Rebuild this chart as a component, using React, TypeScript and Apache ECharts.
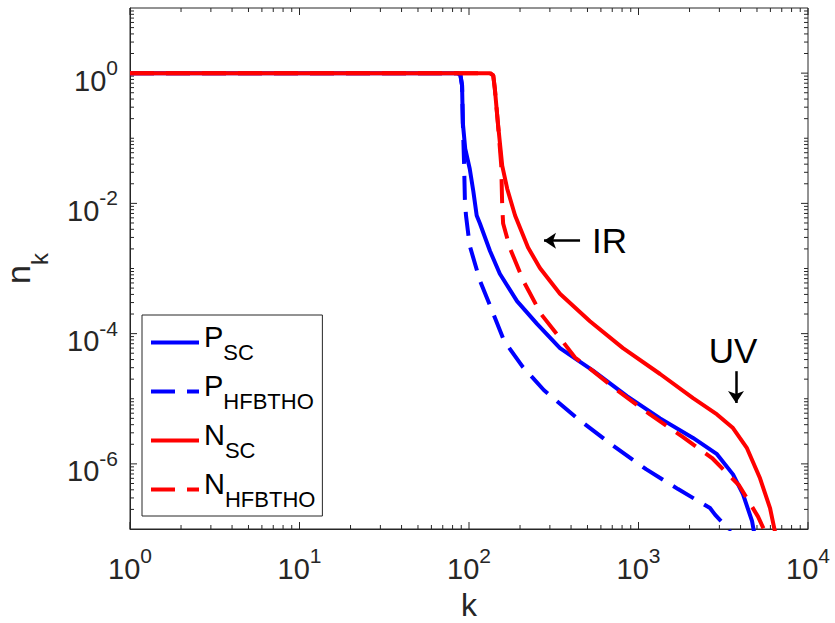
import React, { useEffect, useRef } from "react";
import * as echarts from "echarts";

// ---- data (k, n_k) ----
const P_SC: [number, number][] = [
  [1, 1], [86, 1], [89, 0.93], [91, 0.65], [92, 0.17], [95, 0.069], [101, 0.034],
  [106, 0.0155], [111, 0.0065], [116, 0.0049], [133, 0.00186], [152, 0.00083],
  [192, 3.16e-4], [252, 1.41e-4], [344, 6.0e-5], [539, 2.7e-5], [855, 1.1e-5],
  [1341, 5.0e-6], [2098, 2.5e-6], [2905, 1.41e-6], [3610, 6.9e-7], [4137, 3.4e-7],
  [4677, 1.32e-7], [4800, 9.1e-8],
];
const P_HFBTHO: [number, number][] = [
  [1, 1], [86, 1], [89, 0.93], [91, 0.65], [92, 0.17], [93.5, 0.042], [94.6, 0.011],
  [96, 0.0065], [101, 0.00224], [116, 6.5e-4], [137, 2.24e-4], [161, 7.8e-5],
  [206, 3.16e-5], [277, 1.35e-5], [440, 4.9e-6], [698, 1.95e-6], [1107, 8.3e-7],
  [1711, 4.1e-7], [2642, 2.1e-7], [2827, 1.66e-7], [3373, 1.02e-7], [3467, 9.1e-8],
];
const N_SC: [number, number][] = [
  [1, 1], [133, 1], [139, 0.92], [142, 0.58], [148, 0.174], [157, 0.038], [168, 0.0168],
  [187, 0.0065], [223, 0.0021], [262, 0.00102], [344, 4.1e-4], [517, 1.55e-4],
  [810, 6.0e-5], [1341, 2.4e-5], [2098, 1.02e-5], [2905, 5.75e-6], [3610, 3.55e-6],
  [4365, 1.74e-6], [5212, 6.0e-7], [5970, 2.1e-7], [6385, 9.1e-8],
];
const N_HFBTHO: [number, number][] = [
  [1, 1], [133, 1], [139, 0.92], [142, 0.58], [148, 0.174], [155, 0.038], [157, 0.0091],
  [159, 0.0049], [175, 0.002], [211, 6.2e-4], [266, 2.0e-4], [354, 7.8e-5], [422, 4.3e-5],
  [517, 2.9e-5], [757, 1.32e-5], [1169, 5.75e-6], [1832, 2.57e-6], [2716, 1.23e-6],
  [3917, 4.7e-7], [5072, 1.55e-7], [5574, 9.1e-8],
];

// ---- series / legend ----
const SERIES_NAMES = ["P_SC", "P_HFBTHO", "N_SC", "N_HFBTHO"];
const LEGEND_MAIN = ["P", "P", "N", "N"];
const LEGEND_SUB = ["SC", "HFBTHO", "SC", "HFBTHO"];

// ---- axes / ticks ----
const X_MIN = 1;
const X_MAX = 10000;
const Y_MIN = 1e-7;
const Y_MAX = 10;
const X_LABEL_EXPS = [0, 1, 2, 3, 4];
const Y_LABEL_EXPS = [0, -2, -4, -6];
const X_MAJOR_TICKS = [1, 10, 100, 1000, 10000];
const X_DECADES = [1, 10, 100, 1000];
const Y_MAJOR_TICKS = [1e-6, 1e-4, 1e-2, 1];
const Y_DECADES = [1e-7, 1e-6, 1e-5, 1e-4, 1e-3, 1e-2, 1e-1, 1];
const Y_ODD_DECADES = [1e-5, 1e-3, 1e-1];
const MINOR_MULTIPLES = [2, 3, 4, 5, 6, 7, 8, 9];

// ---- annotations ----
const IR_ARROW_FROM: [number, number] = [452, 2.67e-3];
const IR_ARROW_TO: [number, number] = [277, 2.67e-3];
const IR_TEXT_AT: [number, number] = [674, 2.67e-3];
const UV_ARROW_FROM: [number, number] = [3760, 2.65e-5];
const UV_ARROW_TO: [number, number] = [3760, 8.6e-6];
const UV_TEXT_AT: [number, number] = [3608, 5.42e-5];

const FONT = "'Liberation Sans', Arial, Helvetica, sans-serif";
const AX = "#262626";
const MAJOR_LEN = 7;
const MINOR_LEN = 4;

function buildTickItems(): any[] {
  const items: any[] = [];
  const xTick = (v: number, len: number) => {
    items.push({ value: [v, Y_MIN], symbolSize: [1, len], symbolOffset: [0, -len / 2] });
    items.push({ value: [v, Y_MAX], symbolSize: [1, len], symbolOffset: [0, len / 2] });
  };
  const yTick = (v: number, len: number) => {
    items.push({ value: [X_MIN, v], symbolSize: [len, 1], symbolOffset: [len / 2, 0] });
    items.push({ value: [X_MAX, v], symbolSize: [len, 1], symbolOffset: [-len / 2, 0] });
  };
  X_MAJOR_TICKS.forEach((v) => xTick(v, MAJOR_LEN));
  X_DECADES.forEach((d) => MINOR_MULTIPLES.forEach((m) => xTick(m * d, MINOR_LEN)));
  Y_MAJOR_TICKS.forEach((v) => yTick(v, MAJOR_LEN));
  Y_ODD_DECADES.forEach((v) => yTick(v, MINOR_LEN));
  Y_DECADES.forEach((d) => MINOR_MULTIPLES.forEach((m) => yTick(m * d, MINOR_LEN)));
  return items;
}

function expLabel(v: number, allowed: number[]) {
  const e = Math.round(Math.log10(v));
  if (allowed.indexOf(e) < 0) return "";
  return `{b|10}{s|${e}}`;
}

const labelRich = {
  b: { fontSize: 29, fontFamily: FONT, color: AX, verticalAlign: "bottom", lineHeight: 38 },
  s: { fontSize: 21, fontFamily: FONT, color: AX, verticalAlign: "top", lineHeight: 21 },
};

export default function App() {
  const ref = useRef<HTMLDivElement>(null);
  useEffect(() => {
    document.body.style.margin = "0";
    const chart = echarts.init(ref.current!, null, { renderer: "svg" });
    const colors = ["#0000ff", "#0000ff", "#ff0000", "#ff0000"];
    const dashed = [false, true, false, true];
    const datas = [P_SC, P_HFBTHO, N_SC, N_HFBTHO];

    const lineSeries: any[] = SERIES_NAMES.map((name, i) => ({
      name,
      type: "line",
      data: datas[i],
      symbol: "none",
      smooth: false,
      color: colors[i],
      lineStyle: { color: colors[i], width: 4, type: dashed[i] ? [24, 12] : "solid" },
      z: 5 + i,
      silent: true,
    }));

    lineSeries[2].markLine = {
      silent: true,
      symbol: ["none", "arrow"],
      symbolSize: 12,
      label: { show: false },
      lineStyle: { color: "#000", width: 2.5, type: "solid" },
      data: [
        [{ coord: IR_ARROW_FROM }, { coord: IR_ARROW_TO }],
        [{ coord: UV_ARROW_FROM }, { coord: UV_ARROW_TO }],
      ],
    };
    lineSeries[2].markPoint = {
      silent: true,
      symbol: "rect",
      symbolSize: 1,
      itemStyle: { color: "rgba(0,0,0,0)" },
      label: {
        show: true,
        position: "inside",
        color: "#000",
        fontSize: 35,
        fontFamily: FONT,
      },
      data: [
        { coord: IR_TEXT_AT, label: { formatter: "IR" } },
        { coord: UV_TEXT_AT, label: { formatter: "UV" } },
      ],
    };

    const tickSeries = {
      type: "scatter",
      name: "ticks",
      silent: true,
      clip: false,
      z: 3,
      symbol: "rect",
      itemStyle: { color: AX, opacity: 1 },
      emphasis: { disabled: true },
      data: buildTickItems(),
    };

    chart.setOption({
      animation: false,
      backgroundColor: "#ffffff",
      grid: {
        left: 130,
        top: 8,
        width: 678,
        height: 521,
        show: true,
        borderColor: AX,
        borderWidth: 1,
        backgroundColor: "transparent",
        containLabel: false,
        outerBoundsMode: "none",
      },
      xAxis: {
        type: "log",
        logBase: 10,
        min: X_MIN,
        max: X_MAX,
        name: "k",
        nameLocation: "middle",
        nameGap: 63,
        nameTextStyle: { fontSize: 32, fontFamily: FONT, color: AX, lineHeight: 26 },
        axisLine: { show: true, lineStyle: { color: AX, width: 1 } },
        axisTick: { show: false },
        splitLine: { show: false },
        minorTick: { show: false },
        axisLabel: {
          margin: 16,
          formatter: (v: number) => expLabel(v, X_LABEL_EXPS),
          rich: labelRich,
        },
      },
      yAxis: {
        type: "log",
        logBase: 10,
        min: Y_MIN,
        max: Y_MAX,
        name: "{n|n}{k|k}",
        nameLocation: "middle",
        nameRotate: 90,
        nameGap: 79,
        nameTextStyle: {
          color: AX,
          rich: {
            n: { fontSize: 34, fontFamily: FONT, color: AX, verticalAlign: "top", lineHeight: 34 },
            k: { fontSize: 24, fontFamily: FONT, color: AX, verticalAlign: "bottom", lineHeight: 50 },
          },
        },
        axisLine: { show: true, lineStyle: { color: AX, width: 1 } },
        axisTick: { show: false },
        splitLine: { show: false },
        minorTick: { show: false },
        axisLabel: {
          margin: 12,
          padding: [6, 0, 0, 0],
          formatter: (v: number) => expLabel(v, Y_LABEL_EXPS),
          rich: labelRich,
        },
      },
      legend: {
        data: SERIES_NAMES,
        orient: "vertical",
        left: 142,
        top: 315,
        padding: [7, 7, 6, 7],
        itemGap: 8,
        itemWidth: 48,
        itemHeight: 14,
        backgroundColor: "#ffffff",
        borderColor: AX,
        borderWidth: 1,
        z: 20,
        lineStyle: { width: 4 },
        itemStyle: { color: "rgba(0,0,0,0)", borderWidth: 0, opacity: 0 },
        formatter: (name: string) => {
          const i = SERIES_NAMES.indexOf(name);
          return `{m|${LEGEND_MAIN[i]}}{s|${LEGEND_SUB[i]}}`;
        },
        textStyle: {
          color: "#000",
          rich: {
            m: { fontSize: 29, fontFamily: FONT, color: "#000", verticalAlign: "top", lineHeight: 29 },
            s: { fontSize: 22, fontFamily: FONT, color: "#000", verticalAlign: "bottom", lineHeight: 41 },
          },
        },
      },
      series: [...lineSeries, tickSeries],
    });
    return () => chart.dispose();
  }, []);
  return <div ref={ref} style={{ width: 835, height: 623, position: "absolute", left: 0, top: 0 }} />;
}
